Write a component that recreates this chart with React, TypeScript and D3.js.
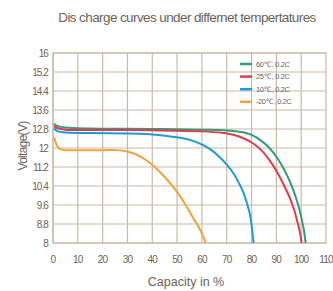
import React from 'react';
import * as d3 from 'd3';

const yTicks = [16, 15.2, 14.4, 13.6, 12.8, 12, 11.2, 10.4, 9.6, 8.8, 8];
const xTicks = [0, 10, 20, 30, 40, 50, 60, 70, 80, 90, 100, 110];

const seriesNames = ['60℃ , 0.2C', '25℃ , 0.2C', '10℃ , 0.2C', '-20℃ , 0.2C'];
const seriesColors = ['#2f9e78', '#e23b4c', '#1b9bd8', '#f2a23a'];

// [capacity %, voltage V]
const green60 = [[0.4, 13.02], [2, 12.92], [5, 12.86], [15, 12.82], [40, 12.8], [60, 12.77], [70, 12.74], [76, 12.67], [80, 12.55], [84, 12.3], [87.5, 11.97], [90.5, 11.56], [93, 11.12], [95.2, 10.65], [97.2, 10.12], [98.8, 9.6], [100, 9.1], [101, 8.6], [101.8, 8]];
const red25 = [[0.4, 12.92], [2, 12.83], [5, 12.77], [15, 12.76], [39, 12.75], [60, 12.7], [68, 12.64], [73, 12.55], [77, 12.4], [80.5, 12.2], [84, 11.9], [87.5, 11.45], [90.5, 10.95], [93.2, 10.4], [95.5, 9.88], [97.3, 9.35], [98.7, 8.8], [99.6, 8.4], [100.2, 8]];
const blue10 = [[0.4, 12.82], [1.5, 12.72], [4, 12.66], [15, 12.63], [30, 12.61], [39, 12.58], [46, 12.51], [52.4, 12.41], [57, 12.28], [60.5, 12.12], [64, 11.9], [67.3, 11.6], [70, 11.3], [72.6, 10.95], [74.8, 10.55], [76.6, 10.16], [78.2, 9.65], [79.4, 9.18], [80.2, 8.6], [80.8, 8]];
const orangeM20 = [[0.5, 12.44], [1.2, 12.2], [2.2, 12.0], [4, 11.92], [10, 11.91], [20, 11.91], [27, 11.9], [31, 11.82], [34.5, 11.68], [38, 11.45], [41.5, 11.15], [45, 10.78], [48.5, 10.35], [51.5, 9.92], [54.3, 9.45], [56.8, 9.0], [58.8, 8.65], [60.4, 8.3], [61.6, 8]];

const seriesData = [green60, red25, blue10, orangeM20];

const W = 333;
const H = 291;
const left = 53, right = 326, top = 53, bottom = 243;
const txt = '#6e6157';
const grid = '#c9b9a7';
const font = '"Liberation Sans", Arial, sans-serif';

export default function App() {
  const x = d3.scaleLinear().domain([0, 110]).range([left, right]);
  const y = d3.scaleLinear().domain([8, 16]).range([bottom, top]);
  const line = d3.line<number[]>()
    .x(d => x(d[0]))
    .y(d => y(d[1]))
    .curve(d3.curveCatmullRom.alpha(0.5));

  return (
    <svg width={W} height={H} style={{ position: 'absolute', left: 0, top: 0, background: '#fff' }}>
      <text x={187} y={22} textAnchor="middle" fontFamily={font} fontSize={13.5} fill={txt} letterSpacing={-0.6}>
        Dis charge curves under differnet tempertatures
      </text>

      {xTicks.slice(0, -1).map(t => (
        <line key={'gx' + t} x1={x(t)} x2={x(t)} y1={top} y2={bottom} stroke={grid} strokeWidth={1.2} />
      ))}
      {yTicks.map(t => (
        <line key={'gy' + t} x1={left} x2={right} y1={y(t)} y2={y(t)} stroke={grid} strokeWidth={1.2} />
      ))}
      <rect x={left} y={top} width={right - left} height={bottom - top} fill="none" stroke={grid} strokeWidth={1.2} />

      {yTicks.map(t => (
        <text key={'ly' + t} x={48} y={y(t) + 3.5} textAnchor="end" fontFamily={font} fontSize={10} fill={txt} letterSpacing={-0.9}>
          {t}
        </text>
      ))}
      {xTicks.map(t => (
        <text key={'lx' + t} x={x(t)} y={263} textAnchor="middle" fontFamily={font} fontSize={10} fill={txt} letterSpacing={-0.8}>
          {t}
        </text>
      ))}

      <text transform="translate(27,146) rotate(-90)" textAnchor="middle" fontFamily={font} fontSize={12} fill={txt} letterSpacing={-0.7}>
        Voltage(V)
      </text>
      <text x={186} y={286} textAnchor="middle" fontFamily={font} fontSize={12.5} fill={txt}>
        Capacity in %
      </text>

      {seriesData.map((s, i) => (
        <path key={'s' + i} d={line(s as number[][]) || ''} fill="none" stroke={seriesColors[i]} strokeWidth={2} strokeLinejoin="round" />
      ))}

      {seriesNames.map((n, i) => (
        <g key={'lg' + i} transform={`translate(240,${64 + i * 12.6})`}>
          <line x1={0} x2={12} y1={0} y2={0} stroke={seriesColors[i]} strokeWidth={2.5} />
          <text x={16} y={2.5} fontFamily={font} fontSize={7.5} fill={txt} letterSpacing={-0.4}>
            {n}
          </text>
        </g>
      ))}
    </svg>
  );
}
